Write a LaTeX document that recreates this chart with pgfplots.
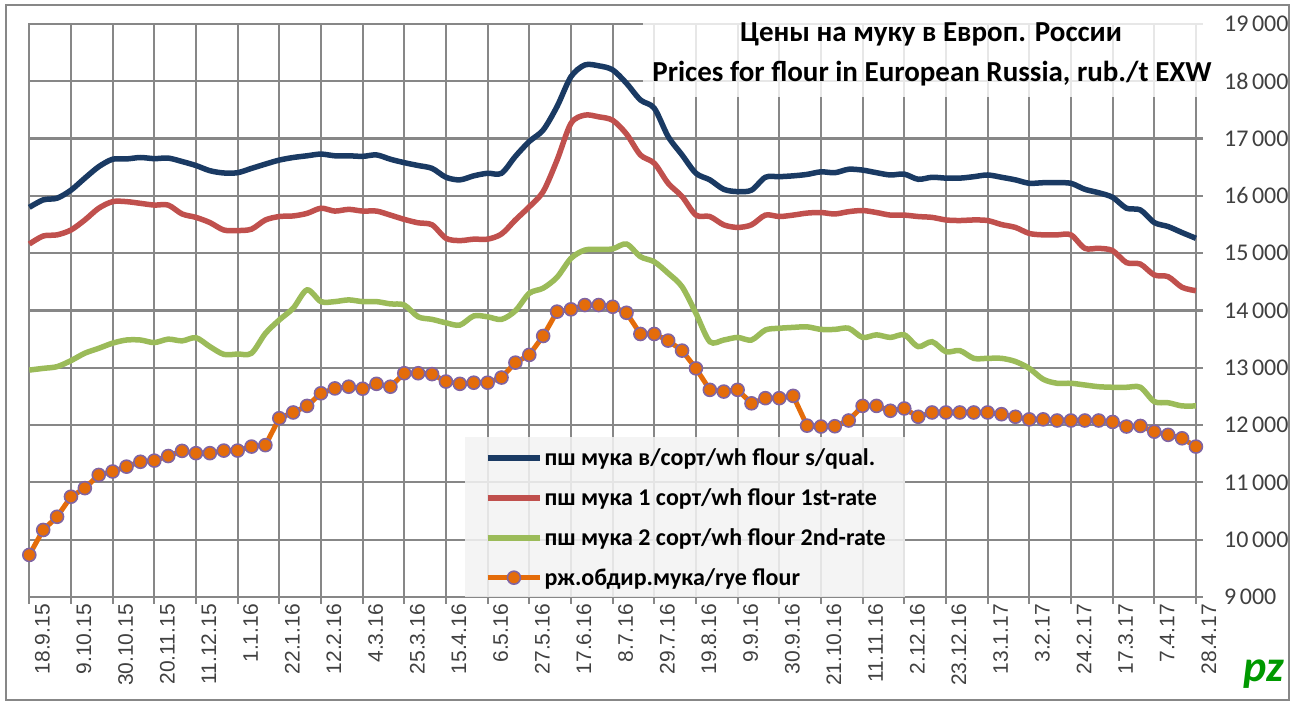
\documentclass[border=0pt]{standalone}
\usepackage{fontspec}
\setmainfont{Carlito}
\newfontfamily\arial{Liberation Sans}
\usepackage{pgfplots}
\pgfplotsset{compat=1.18}
\definecolor{navy}{HTML}{1A3A63}
\definecolor{redl}{HTML}{C0504D}
\definecolor{greenl}{HTML}{9BBB59}
\definecolor{ryeor}{HTML}{E46C0A}
\definecolor{ryepur}{HTML}{8064A2}
\definecolor{gridgray}{HTML}{878787}
\definecolor{lgfill}{HTML}{F2F2F2}
\definecolor{labgray}{HTML}{404040}
\begin{document}
\begin{tikzpicture}
\path (0bp,0bp) rectangle (1304bp,702bp);
\draw[gridgray, line width=2bp] (6bp,2bp) rectangle (1289bp,697bp);
\begin{axis}[
  at={(29.3bp,105bp)}, anchor=south west,
  scale only axis, width=1166.7bp, height=573bp,
  xmin=0, xmax=84, ymin=9000, ymax=19000,
  clip=false,
  scaled y ticks=false, scaled x ticks=false,
  xtick={0,3,...,84},
  xticklabels={18.9.15,9.10.15,30.10.15,20.11.15,11.12.15,1.1.16,22.1.16,12.2.16,4.3.16,25.3.16,15.4.16,6.5.16,27.5.16,17.6.16,8.7.16,29.7.16,19.8.16,9.9.16,30.9.16,21.10.16,11.11.16,2.12.16,23.12.16,13.1.17,3.2.17,24.2.17,17.3.17,7.4.17,28.4.17},
  ytick={9000,10000,...,19000},
  yticklabels={9\hspace{0.15em}000,10\hspace{0.15em}000,11\hspace{0.15em}000,12\hspace{0.15em}000,13\hspace{0.15em}000,14\hspace{0.15em}000,15\hspace{0.15em}000,16\hspace{0.15em}000,17\hspace{0.15em}000,18\hspace{0.15em}000,19\hspace{0.15em}000},
  grid=major,
  major grid style={draw=gridgray, line width=2.2bp},
  axis line style={draw=gridgray, line width=2.2bp},
  tick style={draw=gridgray, line width=2.2bp},
  tick align=outside, major tick length=7bp,
  xtick pos=left, ytick pos=right,
  xticklabel pos=left, yticklabel pos=right,
  xticklabel style={rotate=90, anchor=east, inner sep=0pt, yshift=-13bp, font=\arial\fontsize{21bp}{25bp}\selectfont, text=labgray},
  yticklabel style={anchor=west, inner sep=0pt, xshift=21bp, font=\fontsize{24bp}{28bp}\selectfont, text=labgray},
  legend style={at={(rel axis cs:0.3906,0.262)}, anchor=north west, draw=none, fill=none,
    inner sep=0pt, row sep=17.5bp,
    font=\fontsize{24bp}{28bp}\selectfont\bfseries,
    /tikz/every even column/.append style={column sep=3bp}},
  legend cell align=left,
  legend image code/.code={\draw[mark repeat=2,mark phase=2,#1] plot coordinates {(0bp,0bp) (26bp,0bp) (52bp,0bp)};},
]
\fill[white, opacity=0.8] (axis cs:44.17,19035) rectangle (axis cs:85.3,17726);
\fill[lgfill, opacity=0.88] (axis cs:31.37,11793) rectangle (axis cs:63.05,9000);

\addplot[navy, line width=5.5bp, smooth, tension=0.5] coordinates {
(0,15800)(1,15930)(2,15960)(3,16100)(4,16310)(5,16510)(6,16640)(7,16645)(8,16670)(9,16650)
(10,16660)(11,16600)(12,16530)(13,16440)(14,16400)(15,16405)(16,16480)(17,16555)(18,16625)(19,16670)
(20,16700)(21,16730)(22,16700)(23,16700)(24,16690)(25,16715)(26,16640)(27,16580)(28,16530)(29,16480)
(30,16325)(31,16280)(32,16350)(33,16395)(34,16395)(35,16690)(36,16950)(37,17150)(38,17560)(39,18080)
(40,18285)(41,18270)(42,18200)(43,17965)(44,17675)(45,17530)(46,17035)(47,16715)(48,16395)(49,16280)
(50,16115)(51,16075)(52,16100)(53,16325)(54,16335)(55,16350)(56,16375)(57,16420)(58,16405)(59,16465)
(60,16450)(61,16405)(62,16365)(63,16380)(64,16290)(65,16325)(66,16310)(67,16310)(68,16335)(69,16365)
(70,16325)(71,16280)(72,16220)(73,16230)(74,16230)(75,16220)(76,16115)(77,16055)(78,15975)(79,15785)
(80,15755)(81,15535)(82,15465)(83,15360)(84,15260)};
\addlegendentry{пш мука в/сорт/wh flour s/qual.}

\addplot[redl, line width=5.5bp, smooth, tension=0.5] coordinates {
(0,15160)(1,15300)(2,15320)(3,15405)(4,15580)(5,15785)(6,15900)(7,15900)(8,15870)(9,15840)
(10,15840)(11,15685)(12,15625)(13,15535)(14,15405)(15,15395)(16,15420)(17,15580)(18,15640)(19,15650)
(20,15695)(21,15785)(22,15735)(23,15765)(24,15735)(25,15735)(26,15665)(27,15590)(28,15530)(29,15495)
(30,15260)(31,15220)(32,15245)(33,15245)(34,15335)(35,15580)(36,15810)(37,16075)(38,16625)(39,17265)
(40,17410)(41,17380)(42,17320)(43,17080)(44,16715)(45,16570)(46,16220)(47,15990)(48,15665)(49,15640)
(50,15495)(51,15450)(52,15495)(53,15665)(54,15640)(55,15665)(56,15700)(57,15710)(58,15685)(59,15725)
(60,15745)(61,15710)(62,15665)(63,15665)(64,15640)(65,15625)(66,15580)(67,15570)(68,15580)(69,15570)
(70,15500)(71,15450)(72,15345)(73,15320)(74,15320)(75,15320)(76,15085)(77,15085)(78,15045)(79,14835)
(80,14810)(81,14620)(82,14590)(83,14405)(84,14345)};
\addlegendentry{пш мука 1 сорт/wh flour 1st-rate}

\addplot[greenl, line width=5.5bp, smooth, tension=0.5] coordinates {
(0,12960)(1,12990)(2,13020)(3,13125)(4,13255)(5,13340)(6,13430)(7,13485)(8,13485)(9,13440)
(10,13500)(11,13470)(12,13525)(13,13370)(14,13235)(15,13240)(16,13255)(17,13600)(18,13835)(19,14040)
(20,14360)(21,14155)(22,14155)(23,14185)(24,14155)(25,14155)(26,14115)(27,14095)(28,13890)(29,13845)
(30,13785)(31,13745)(32,13905)(33,13890)(34,13845)(35,13995)(36,14300)(37,14390)(38,14580)(39,14910)
(40,15055)(41,15065)(42,15075)(43,15160)(44,14940)(45,14850)(46,14650)(47,14415)(48,13950)(49,13455)
(50,13485)(51,13530)(52,13485)(53,13660)(54,13690)(55,13705)(56,13715)(57,13670)(58,13670)(59,13690)
(60,13530)(61,13575)(62,13530)(63,13575)(64,13370)(65,13455)(66,13280)(67,13300)(68,13165)(69,13165)
(70,13165)(71,13110)(72,12990)(73,12800)(74,12730)(75,12730)(76,12700)(77,12670)(78,12660)(79,12660)
(80,12660)(81,12410)(82,12390)(83,12335)(84,12335)};
\addlegendentry{пш мука 2 сорт/wh flour 2nd-rate}

\addplot[ryeor, line width=5bp, mark=*, mark size=6.5bp, mark options={fill=ryeor, draw=ryepur, line width=1.6bp}] coordinates {
(0,9734)(1,10170)(2,10400)(3,10750)(4,10900)(5,11130)(6,11190)(7,11275)(8,11360)(9,11380)
(10,11460)(11,11550)(12,11510)(13,11510)(14,11555)(15,11555)(16,11625)(17,11650)(18,12120)(19,12220)
(20,12335)(21,12555)(22,12640)(23,12670)(24,12635)(25,12720)(26,12670)(27,12905)(28,12905)(29,12890)
(30,12760)(31,12720)(32,12740)(33,12740)(34,12830)(35,13090)(36,13225)(37,13555)(38,13980)(39,14020)
(40,14095)(41,14095)(42,14065)(43,13960)(44,13590)(45,13590)(46,13475)(47,13300)(48,12990)(49,12615)
(50,12585)(51,12615)(52,12380)(53,12470)(54,12470)(55,12510)(56,11990)(57,11975)(58,11980)(59,12080)
(60,12335)(61,12335)(62,12250)(63,12290)(64,12145)(65,12220)(66,12220)(67,12220)(68,12220)(69,12220)
(70,12190)(71,12145)(72,12100)(73,12100)(74,12080)(75,12080)(76,12080)(77,12080)(78,12055)(79,11975)
(80,11985)(81,11885)(82,11830)(83,11770)(84,11625)};
\addlegendentry{рж.обдир.мука/rye flour}
\end{axis}
\node[anchor=base, font=\fontsize{29bp}{34bp}\selectfont\bfseries] at (931bp,660bp) {Цены на муку в Европ. России};
\node[anchor=base, font=\fontsize{29bp}{34bp}\selectfont\bfseries] at (932bp,620bp) {Prices for flour in European Russia, rub./t EXW};
\node[anchor=center, text=green!60!black, font=\fontsize{44bp}{44bp}\selectfont\bfseries\itshape] at (1264bp,28bp) {pz};
\end{tikzpicture}
\end{document}
